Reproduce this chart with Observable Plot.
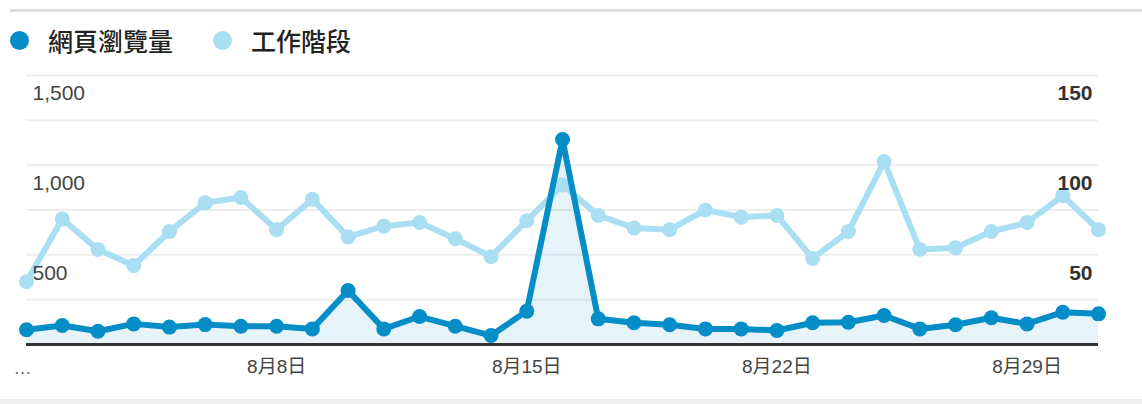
<!DOCTYPE html>
<html>
<head>
<meta charset="utf-8">
<script src="https://cdn.jsdelivr.net/npm/d3@7"></script>
<script src="https://cdn.jsdelivr.net/npm/@observablehq/plot@0.6"></script>
<style>
  html, body { margin: 0; padding: 0; background: #fff; }
  #wrap { position: relative; width: 1142px; height: 404px; overflow: hidden; background: #fff; }
  #topline { position: absolute; left: 10px; right: 0; top: 9px; height: 3px; background: #dedede; }
  #bottomband { position: absolute; left: 0; right: 0; top: 399px; height: 5px; background: #eeeeee; }
  #legend { position: absolute; left: 10px; top: 25px; height: 30px; display: flex; align-items: center;
            font-family: "Noto Sans CJK TC", "Noto Sans", sans-serif; font-size: 25px; font-weight: 500; color: #222; }
  .sw { width: 19px; height: 19px; border-radius: 50%; display: inline-block; margin-right: 19px; }
  .item { display: flex; align-items: center; margin-right: 40px; }
  #chart { position: absolute; left: 0; top: 60px; }
</style>
</head>
<body>
<div id="wrap">
  <div id="topline"></div>
  <div id="legend"></div>
  <div id="chart"></div>
  <div id="bottomband"></div>
</div>
<script>
const seriesNames = ["網頁瀏覽量", "工作階段"];
const seriesColors = ["#058dc7", "#aadff3"];
const days = d3.range(1, 32);
const pageviews = [82,106,74,115,97,111,102,102,87,301,87,156,102,50,186,1143,143,121,110,87,87,78,121,124,162,87,110,149,115,180,171];
const sessions = [35,70,53,44,63,79,82,64,81,60,66,68,59,49,69,89,72,65,64,75,71,72,48,63,102,53,54,63,68,83,64];
const leftTicks = [500, 1000, 1500];
const rightTicks = [50, 100, 150];
const gridValues = [250, 500, 750, 1000, 1250, 1500];
const xTickDays = [8, 15, 22, 29];

const date = d => new Date(Date.UTC(2020, 7, d));
const pv = days.map((d, i) => ({date: date(d), value: pageviews[i]}));
const ss = days.map((d, i) => ({date: date(d), value: sessions[i]}));
const ratio = 1500 / 150;

// legend
const legend = document.getElementById("legend");
seriesNames.forEach((n, i) => {
  const it = document.createElement("div");
  it.className = "item";
  const sw = document.createElement("span");
  sw.className = "sw";
  sw.style.background = seriesColors[i];
  const t = document.createElement("span");
  t.textContent = n;
  it.appendChild(sw); it.appendChild(t);
  legend.appendChild(it);
});

const fmtTick = d => `${d.getUTCMonth() + 1}月${d.getUTCDate()}日`;

const chart = Plot.plot({
  width: 1142,
  height: 340,
  marginTop: 15,
  marginBottom: 56,
  marginLeft: 26,
  marginRight: 44,
  style: {fontFamily: "'Liberation Sans', Arial, 'Noto Sans CJK TC', sans-serif", background: "transparent"},
  x: {type: "utc", domain: [date(1), date(31)]},
  y: {domain: [0, 1500], axis: null},
  marks: [
    Plot.ruleY(gridValues, {stroke: "#eeeeee", strokeWidth: 2}),
    Plot.areaY(pv, {x: "date", y: "value", fill: "#058dc7", fillOpacity: 0.1}),
    Plot.line(ss, {x: "date", y: d => d.value * ratio, stroke: seriesColors[1], strokeWidth: 6}),
    Plot.dot(ss, {x: "date", y: d => d.value * ratio, r: 7.5, fill: seriesColors[1]}),
    Plot.line(pv, {x: "date", y: "value", stroke: seriesColors[0], strokeWidth: 6}),
    Plot.dot(pv, {x: "date", y: "value", r: 7.5, fill: seriesColors[0]}),
    Plot.ruleY([0], {stroke: "#333", strokeWidth: 3}),
    Plot.text(leftTicks, {y: d => d, text: d => d3.format(",")(d), frameAnchor: "left", textAnchor: "start", dx: 6, dy: 18, fontSize: 21, fill: "#444"}),
    Plot.text(rightTicks, {y: d => d * ratio, text: d => String(d), frameAnchor: "right", textAnchor: "end", dx: -6, dy: 18, fontSize: 21, fontWeight: "bold", fill: "#333"}),
    Plot.axisX({ticks: xTickDays.map(date), tickFormat: fmtTick, tickSize: 0, tickPadding: 15, fontSize: 19, color: "#444"}),
    Plot.text(["…"], {x: () => date(1), y: () => 0, text: d => d, dx: -4, dy: 24, fontSize: 18, fill: "#666"})
  ]
});
document.getElementById("chart").appendChild(chart);
</script>
</body>
</html>
